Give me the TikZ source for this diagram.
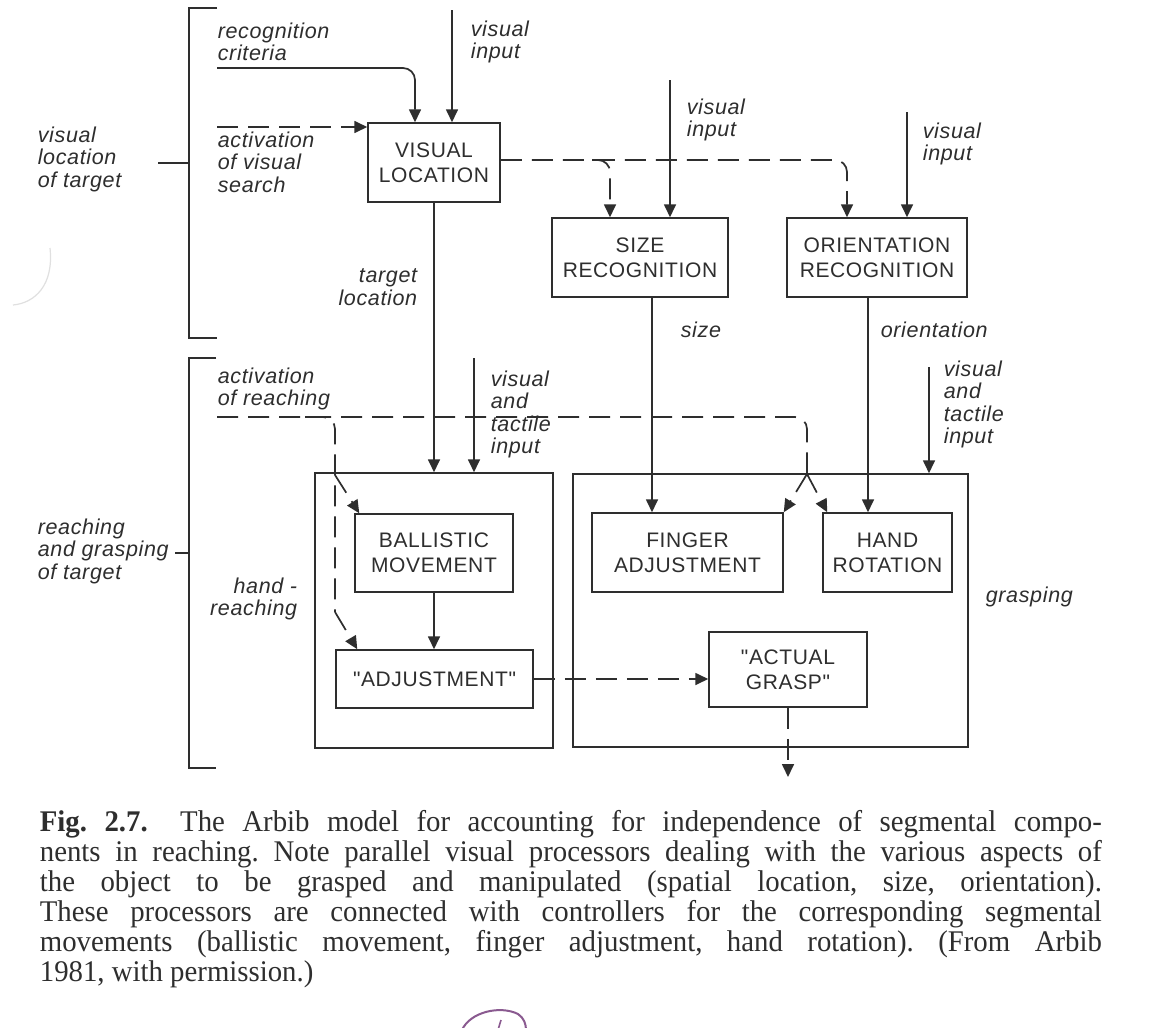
\documentclass[tikz,border=0pt]{standalone}
\usepackage{fontspec}
\setmainfont{Liberation Serif}
\setsansfont{Liberation Sans}
\newfontfamily\capfont[FakeStretch=0.96]{Liberation Serif}
\newfontfamily\lblfam[LetterSpace=3]{Liberation Sans}
\newfontfamily\boxfam[LetterSpace=3]{Liberation Sans}
\usetikzlibrary{arrows.meta,calc}
\definecolor{ink}{HTML}{2E2E2E}
\definecolor{pen}{HTML}{8A5A90}
\newcommand{\lblfont}{\lblfam\itshape\fontsize{21.5}{22.5}\selectfont}
\newcommand{\boxfont}{\boxfam\fontsize{21}{25}\selectfont}
\begin{document}
\begin{tikzpicture}[x=1pt,y=-1pt,
  line width=1.7pt, draw=ink,
  blk/.style={draw=ink, line width=1.5pt, inner sep=0pt, align=center, font=\boxfont, text=ink},
  frame/.style={draw=ink, line width=1.5pt, inner sep=0pt},
  lbl/.style={inner sep=0pt, align=left, font=\lblfont, text=ink},
  rlbl/.style={inner sep=0pt, align=right, font=\lblfont, text=ink},
  arr/.style={draw=ink, -{Triangle[length=13pt,width=12pt]}},
  dsh/.style={draw=ink, dash pattern=on 21pt off 10pt},
  dsharr/.style={dsh, -{Triangle[length=13pt,width=12pt]}},
  brk/.style={draw=ink, line width=1.5pt}
]
\useasboundingbox[fill=white] (0,0) rectangle (1152,1028);

% ---- boxes ----
\node[blk, minimum width=132, minimum height=79] (VL) at (434,162.5) {VISUAL\\LOCATION};
\node[blk, minimum width=176, minimum height=79] (SZ) at (640,257.5) {SIZE\\RECOGNITION};
\node[blk, minimum width=180, minimum height=79] (OR) at (877,257.5) {ORIENTATION\\RECOGNITION};
\node[frame, minimum width=238, minimum height=275] (HR) at (434,610.5) {};
\node[frame, minimum width=395, minimum height=273] (GR) at (770.5,610.5) {};
\node[blk, minimum width=158, minimum height=78] (BALL) at (434,553) {BALLISTIC\\MOVEMENT};
\node[blk, minimum width=197, minimum height=58] (ADJ) at (434.5,679) {"ADJUSTMENT"};
\node[blk, minimum width=191, minimum height=79] (FING) at (687.5,552.5) {FINGER\\ADJUSTMENT};
\node[blk, minimum width=129, minimum height=79] (HAND) at (887.5,552.5) {HAND\\ROTATION};
\node[blk, minimum width=158, minimum height=75] (ACT) at (788,669.5) {"ACTUAL\\GRASP"};

% ---- brackets ----
\coordinate (b1t) at (217,8);
\coordinate (b1b) at (217,338);
\coordinate (b1m) at (158,163);
\draw[brk] (b1t) -- (189,8) -- (189,338) -- (b1b);
\draw[brk] (b1m) -- (b1m -| 189,0);
\coordinate (b2t) at (216,358);
\coordinate (b2b) at (216,768);
\coordinate (b2m) at (175,553);
\draw[brk] (b2t) -- (189,358) -- (189,768) -- (b2b);
\draw[brk] (b2m) -- (b2m -| 189,0);

% ---- left labels ----
\node[lbl, anchor=north west] (Lvis) at (37,126) {visual\\location\\of target};
\node[lbl, anchor=north west] (Lreach) at (37,518) {reaching\\and grasping\\of target};

% ---- inputs to VISUAL LOCATION ----
\coordinate (rc) at (217,68);
\draw[arr, rounded corners=12] (rc) -| ([xshift=-19pt]VL.north);
\node[lbl, anchor=north west] (Lrc) at (217,22) {recognition\\criteria};
\coordinate (viA) at (452,10);
\draw[arr] (viA) -- (viA |- VL.north);
\node[lbl, anchor=north west] (LviA) at (470,20) {visual\\input};
\coordinate (avs) at (217,127);
\draw[dsharr] (avs) -- (avs -| VL.west);
\node[lbl, anchor=north west] (Lavs) at (217,131) {activation\\of visual\\search};

% ---- VISUAL LOCATION to recognizers ----
\coordinate (dy) at (0,160);
\draw[dsharr, rounded corners=12] (VL.east |- dy) -| ([xshift=-30pt]OR.north);
\coordinate (szb) at (592,160);
\draw[dsharr, rounded corners=12] (szb) -| ([xshift=-30pt]SZ.north);
\coordinate (viB) at (670,80);
\draw[arr] (viB) -- (viB |- SZ.north);
\node[lbl, anchor=north west] (LviB) at (686,98) {visual\\input};
\coordinate (viC) at (907,112);
\draw[arr] (viC) -- (viC |- OR.north);
\node[lbl, anchor=north west] (LviC) at (922,122) {visual\\input};

% ---- down to controllers ----
\draw[arr] (VL.south) -- (VL.south |- HR.north);
\node[rlbl, anchor=north east] (Ltl) at (418,268) {target\\location};
\draw[arr] ([xshift=12pt]SZ.south) -- ([xshift=12pt]SZ.south |- FING.north);
\node[lbl, anchor=base west] (Lsz) at (680,337) {size};
\draw[arr] ([xshift=-9pt]OR.south) -- ([xshift=-9pt]OR.south |- HAND.north);
\node[lbl, anchor=base west] (Lor) at (880,337) {orientation};

\coordinate (vtA) at (474,358);
\draw[arr] (vtA) -- (vtA |- HR.north);
\node[lbl, anchor=north west] (LvtA) at (490,370) {visual\\and\\tactile\\input};
\coordinate (vtB) at (929,367);
\draw[arr] (vtB) -- (vtB |- GR.north);
\node[lbl, anchor=north west] (LvtB) at (943,360) {visual\\and\\tactile\\input};

% ---- activation of reaching ----
\coordinate (ar) at (217,417);
\coordinate (sp) at (807,474);
\node[lbl, anchor=north west] (Lar) at (217,367) {activation\\of reaching};
\draw[dsh, rounded corners=12] (ar) -| (sp);
\draw[dsharr] (sp) -- (FING.north east);
\draw[dsharr] (sp) -- ([xshift=5pt]HAND.north west);
\coordinate (lbS) at (305,417);
\coordinate (lbT) at (335,475);
\coordinate (lbB) at (335,612);
\draw[dsh, rounded corners=12] (lbS) -| (lbB);
\draw[dsharr] (lbT) -- ([xshift=5pt]BALL.north west);
\draw[dsharr] (lbB) -- ([xshift=22pt]ADJ.north west);

% ---- within controllers ----
\draw[arr] (BALL.south) -- (BALL.south |- ADJ.north);
\draw[dsharr] (ADJ.east) -- (ADJ.east -| ACT.west);
\coordinate (out) at (788,777);
\draw[dsharr] (ACT.south) -- (out);
\node[rlbl, anchor=north east] (Lhr) at (298,577) {hand -\\reaching};
\node[lbl, anchor=base west] (Lgr) at (985,602) {grasping};

% ---- scan marks ----
\draw[black!12, line width=1.2pt] (50,248) .. controls (54,285) and (35,303) .. (13,305);
\draw[pen, line width=2pt] (462,1030) .. controls (470,1012) and (500,1005) .. (518,1014) .. controls (524,1018) and (526,1024) .. (526,1030);
\draw[pen, line width=1.6pt] (501,1020) -- (498,1030);

% ---- caption ----
\node[anchor=north west, inner sep=0pt, text=ink] (cap) at (39,810) {\parbox{1062pt}{\capfont\fontsize{30}{30}\selectfont\frenchspacing\hyphenpenalty=10000\tolerance=10000\hbadness=10000
\textbf{Fig. 2.7.}\enspace\ The Arbib model for accounting for independence of segmental compo-\linebreak
nents in reaching. Note parallel visual processors dealing with the various aspects of\linebreak
the object to be grasped and manipulated (spatial location, size, orientation).\linebreak
These processors are connected with controllers for the corresponding segmental\linebreak
movements (ballistic movement, finger adjustment, hand rotation). (From Arbib\linebreak
1981, with permission.)}};
\end{tikzpicture}
\end{document}
